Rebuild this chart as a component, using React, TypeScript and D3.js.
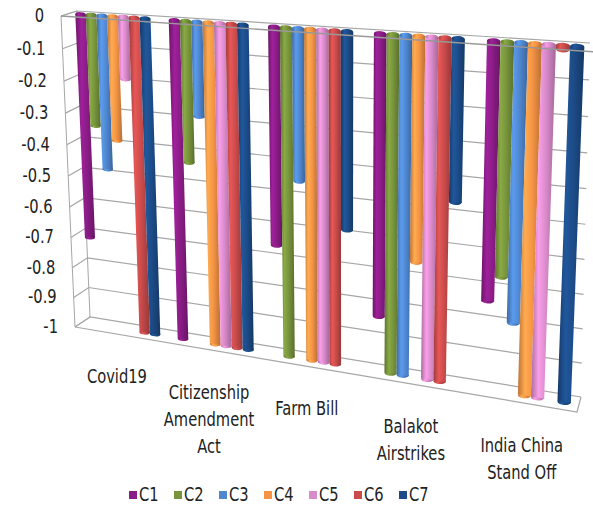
import React from "react";
import * as d3 from "d3";

// categories and series values
const categories = ["Covid19", "Citizenship Amendment Act", "Farm Bill", "Balakot Airstrikes", "India China Stand Off"];
const categoryLines = [["Covid19"], ["Citizenship", "Amendment", "Act"], ["Farm Bill"], ["Balakot", "Airstrikes"], ["India China", "Stand Off"]];
const seriesNames = ["C1", "C2", "C3", "C4", "C5", "C6", "C7"];
const C1 = [-0.71, -1, -0.655, -0.83, -0.735];
const C2 = [-0.345, -0.43, -1, -1, -0.66];
const C3 = [-0.48, -0.285, -0.45, -1, -0.79];
const C4 = [-0.385, -1, -1, -0.65, -1];
const C5 = [-0.19, -1, -1, -1, -1];
const C6 = [-1, -1, -1, -1, -0.01];
const C7 = [-1, -1, -0.58, -0.46, -1];
const seriesValues = [C1, C2, C3, C4, C5, C6, C7];
const colors = ["#8a1c86", "#77933c", "#4f87cf", "#f59445", "#d98aca", "#c94b4b", "#1c4b87"];
const ticks = [0, -0.1, -0.2, -0.3, -0.4, -0.5, -0.6, -0.7, -0.8, -0.9, -1];

const W = 593;
const H = 505;
const FONT = "'DejaVu Sans Condensed', 'Liberation Sans Narrow', sans-serif";
const SX = 0.86; // squeeze text to look like the narrow original font

type Pt = [number, number];

// unit square -> quad (TL, TR, BR, BL)
function homography(q: Pt[]) {
  const [[x0, y0], [x1, y1], [x2, y2], [x3, y3]] = q;
  const dx1 = x1 - x2, dx2 = x3 - x2, dx3 = x0 - x1 + x2 - x3;
  const dy1 = y1 - y2, dy2 = y3 - y2, dy3 = y0 - y1 + y2 - y3;
  const den = dx1 * dy2 - dx2 * dy1;
  const g = (dx3 * dy2 - dx2 * dy3) / den;
  const h = (dx1 * dy3 - dx3 * dy1) / den;
  const a = x1 - x0 + g * x1, b = x3 - x0 + h * x3;
  const d = y1 - y0 + g * y1, e = y3 - y0 + h * y3;
  return (u: number, v: number): Pt => {
    const w = g * u + h * v + 1;
    return [(a * u + b * v + x0) / w, (d * u + e * v + y0) / w];
  };
}

const front = homography([[61, 16], [596, 52], [577, 412], [75, 327]]);
const back = homography([[77, 11], [590, 43], [581, 397], [90, 317]]);
const P = (u: number, t: number, dep: number): Pt => {
  const f = front(u, t), b = back(u, t);
  return [f[0] + (b[0] - f[0]) * dep, f[1] + (b[1] - f[1]) * dep];
};

// value -> depth-down fraction
const tScale = d3.scaleLinear().domain([0, -1]).range([0, 1]);
const x0 = d3.scaleBand<string>().domain(categories).range([0, 1]).paddingInner(0.19).paddingOuter(0.07);
const x1 = d3.scaleBand<string>().domain(seriesNames).range([0, x0.bandwidth()]);

const pts = (arr: Pt[]) => arr.map(p => p.join(",")).join(" ");

function Label({ x, y, anchor, children }: { x: number; y: number; anchor: string; children: React.ReactNode }) {
  return (
    <text transform={`translate(${x},${y}) scale(${SX},1)`} textAnchor={anchor} fontSize={19} fill="#222">
      {children}
    </text>
  );
}

export default function App() {
  const grid = "#a6a6a6";
  const bars: React.ReactNode[] = [];
  categories.forEach((cat, ci) => {
    seriesNames.forEach((s, si) => {
      const v = seriesValues[si][ci];
      const u0 = (x0(cat) ?? 0) + (x1(s) ?? 0);
      const u1 = u0 + x1.bandwidth();
      const t = tScale(v);
      const tl = P(u0, 0, 0.5), tr = P(u1, 0, 0.5), br = P(u1, t, 0.5), bl = P(u0, t, 0.5);
      const wTop = tr[0] - tl[0];
      const wBot = br[0] - bl[0];
      const ryT = wTop * 0.2, ryB = wBot * 0.22;
      const topC: Pt = [(tl[0] + tr[0]) / 2, (tl[1] + tr[1]) / 2];
      const botC: Pt = [(bl[0] + br[0]) / 2, (bl[1] + br[1]) / 2];
      const ang = (Math.atan2(tr[1] - tl[1], tr[0] - tl[0]) * 180) / Math.PI;
      bars.push(
        <g key={`${ci}-${si}`}>
          <ellipse cx={botC[0]} cy={botC[1]} rx={wBot / 2} ry={ryB} fill={`url(#g${si})`} transform={`rotate(${ang},${botC[0]},${botC[1]})`} />
          <polygon points={pts([tl, tr, br, bl])} fill={`url(#g${si})`} />
          <ellipse cx={topC[0]} cy={topC[1]} rx={wTop / 2} ry={ryT} fill={`url(#g${si})`} transform={`rotate(${ang},${topC[0]},${topC[1]})`} />
        </g>
      );
    });
  });

  return (
    <svg width={W} height={H} style={{ position: "absolute", left: 0, top: 0, background: "#fff" }} fontFamily={FONT}>
      <defs>
        {colors.map((c, i) => {
          const base = d3.color(c)!;
          return (
            <linearGradient key={i} id={`g${i}`} x1="0" x2="1" y1="0" y2="0">
              <stop offset="0" stopColor={base.darker(0.7).formatHex()} />
              <stop offset="0.3" stopColor={base.brighter(0.4).formatHex()} />
              <stop offset="0.6" stopColor={base.formatHex()} />
              <stop offset="1" stopColor={base.darker(0.8).formatHex()} />
            </linearGradient>
          );
        })}
      </defs>

      {/* side wall */}
      <polygon points={pts([P(0, 0, 0), P(0, 0, 1), P(0, 1, 1), P(0, 1, 0)])} fill="#fff" stroke={grid} strokeWidth={1} />
      {/* back wall + side wall gridlines */}
      {ticks.map(v => {
        const t = tScale(v);
        const a = P(0, t, 0), b = P(0, t, 1), c = P(1, t, 1);
        return <polyline key={v} points={pts([a, b, c])} fill="none" stroke={grid} strokeWidth={1.2} />;
      })}
      {/* bottom front edge */}
      <polyline points={pts([P(0, 1, 0), P(1, 1, 0), P(1, 1, 1)])} fill="none" stroke={grid} strokeWidth={1.2} />

      {bars}

      {/* front top edge of floor */}
      <line x1={P(0, 0, 0)[0]} y1={P(0, 0, 0)[1]} x2={P(1, 0, 0)[0]} y2={P(1, 0, 0)[1]} stroke="#999" strokeWidth={1.4} />

      {/* value axis labels */}
      {ticks.map(v => {
        const p = P(0, tScale(v), 0);
        return (
          <Label key={v} x={p[0] - 17} y={p[1] + 6} anchor="end">
            {v === 0 ? "0" : String(v)}
          </Label>
        );
      })}

      {/* category labels */}
      {categories.map((cat, ci) => {
        const uc = (x0(cat) ?? 0) + x0.bandwidth() / 2;
        const p = P(uc, 1, 0);
        return categoryLines[ci].map((ln, li) => (
          <Label key={`${cat}-${li}`} x={p[0]} y={p[1] + 49 + li * 27} anchor="middle">{ln}</Label>
        ));
      })}

      {/* legend */}
      {seriesNames.map((s, i) => (
        <g key={s} transform={`translate(${129 + i * 45},491)`}>
          <rect width={8} height={8} fill={colors[i]} />
          <Label x={10} y={10} anchor="start">{s}</Label>
        </g>
      ))}
    </svg>
  );
}
